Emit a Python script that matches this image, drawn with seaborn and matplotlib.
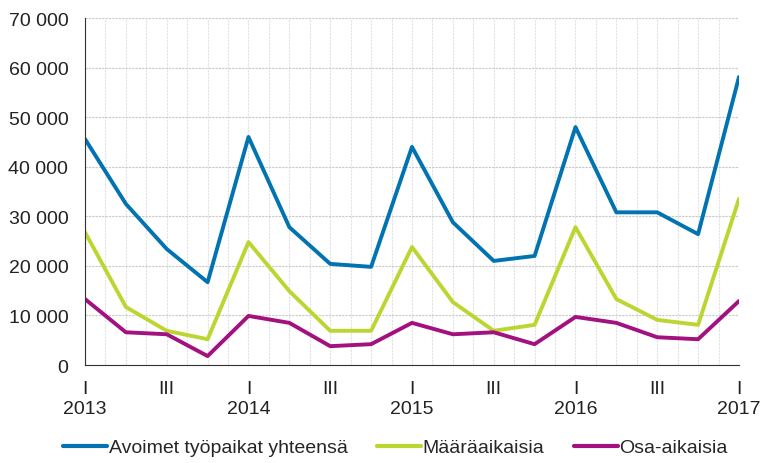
import numpy as np
import pandas as pd
import seaborn as sns
import matplotlib.pyplot as plt
from matplotlib.ticker import FuncFormatter, MultipleLocator

# neljännesvuodet 2013 I - 2017 I
quarters = ['2013Q1', '2013Q2', '2013Q3', '2013Q4',
            '2014Q1', '2014Q2', '2014Q3', '2014Q4',
            '2015Q1', '2015Q2', '2015Q3', '2015Q4',
            '2016Q1', '2016Q2', '2016Q3', '2016Q4',
            '2017Q1']
avoimet = [45600, 32500, 23400, 16700, 46000, 27800, 20400, 19800,
           44000, 28800, 21000, 22000, 48000, 30800, 30800, 26400, 58100]
maaraaikaisia = [26800, 11700, 6900, 5200, 24800, 14900, 6900, 6900,
                 23800, 12700, 6900, 8100, 27800, 13300, 9100, 8100, 33500]
osa_aikaisia = [13300, 6600, 6200, 1800, 9900, 8500, 3800, 4200,
                8500, 6200, 6600, 4200, 9700, 8500, 5600, 5200, 12900]
series_names = ['Avoimet työpaikat yhteensä', 'Määräaikaisia', 'Osa-aikaisia']
colors = ['#0073b0', '#bcd631', '#a3107f']

x = np.arange(len(quarters))
df = pd.DataFrame({'x': np.tile(x, 3),
                   'arvo': avoimet + maaraaikaisia + osa_aikaisia,
                   'sarja': np.repeat(series_names, len(quarters))})

sns.set_style('white')
plt.rcParams['font.family'] = ['Liberation Sans', 'DejaVu Sans']

fig = plt.figure(figsize=(7.63, 4.64), dpi=100)
ax = fig.add_axes([0.1114, 0.2112, 0.8571, 0.7478])

sns.lineplot(data=df, x='x', y='arvo', hue='sarja', palette=colors,
             linewidth=2.8, ax=ax, legend=True)

ax.set_xlim(0, len(quarters) - 1)
ax.set_ylim(0, 70000)
ax.yaxis.set_major_locator(MultipleLocator(10000))
ax.yaxis.set_major_formatter(FuncFormatter(lambda v, p: f'{int(v):,}'.replace(',', ' ')))

labels = []
for q in quarters:
    n = q[-1]
    if n == '1':
        labels.append('I\n' + q[:4])
    elif n == '3':
        labels.append('III\n')
    else:
        labels.append('')
ax.set_xticks(x)
ax.set_xticklabels(labels, linespacing=1.2)
ax.set_xticks(x[:-1] + 0.5, minor=True)

ax.grid(axis='y', color='#c8c8c8', linestyle=(0, (2, 1)), linewidth=0.8)
ax.grid(axis='x', which='both', color='#e2e2e2', linestyle=(0, (2, 1)), linewidth=0.8)
ax.set_axisbelow(True)

for s in ['top', 'right']:
    ax.spines[s].set_visible(False)
ax.spines['left'].set_color('#333333')
ax.spines['bottom'].set_color('#333333')
ax.tick_params(axis='x', which='major', direction='out', length=5, width=1,
               color='#333333', labelsize=14, labelcolor='#222222', pad=6)
ax.tick_params(axis='x', which='minor', length=0)
ax.tick_params(axis='y', length=0, labelsize=14, labelcolor='#222222', pad=12)
ax.set_xlabel('')
ax.set_ylabel('')

leg = ax.legend(loc='center', bbox_to_anchor=(0.475, -0.238), ncol=3,
                frameon=False, fontsize=14, handlelength=2.25,
                handletextpad=0.1, columnspacing=1.5)
for line in leg.get_lines():
    line.set_linewidth(3)

fig.savefig('out.png', dpi=100)
